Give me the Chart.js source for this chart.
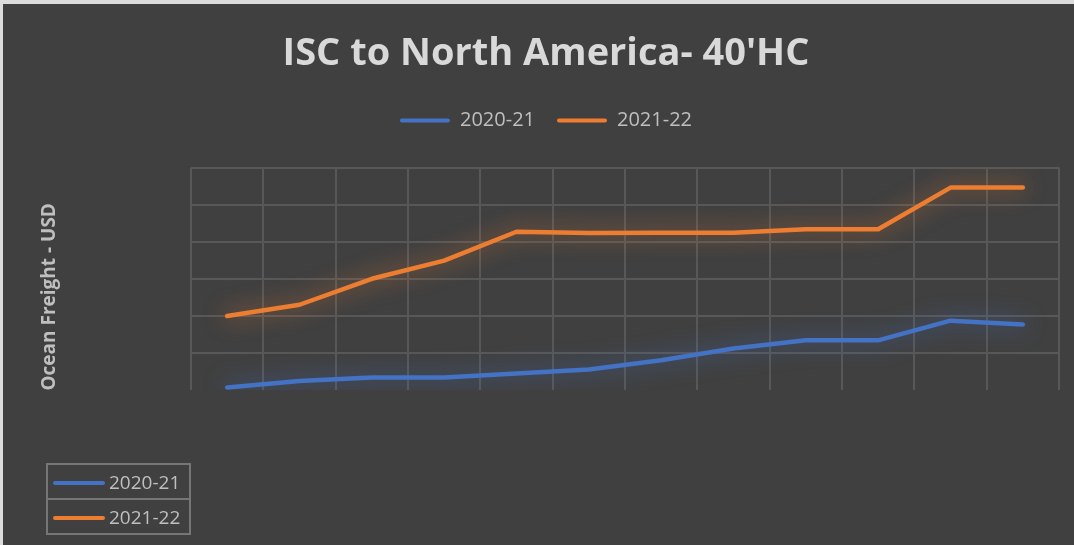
<!DOCTYPE html>
<html>
<head>
<meta charset="utf-8">
<script src="https://cdn.jsdelivr.net/npm/chart.js@4"></script>
<style>
    body { margin: 0; background: #dcdcdc; width: 1074px; height: 545px; overflow: hidden; position: relative; font-family: "Open Sans", sans-serif; }
    #wrap { position: absolute; left: 3px; top: 4px; width: 1071px; height: 541px; background: #404040; }
    #table { position: absolute; left: 46px; top: 463px; border-collapse: collapse; }
    #table td { border: 2px solid #767676; height: 33px; width: 141px; padding: 0; color: #bfbfbf; font-size: 19px; white-space: nowrap; }
    #table .ln { display: inline-block; width: 52px; height: 4px; border-radius: 2px; vertical-align: middle; margin: 0 4px 0 5px; }
</style>
</head>
<body>
<div id="wrap"><canvas id="canvas"></canvas></div>
<table id="table"></table>
<script>
var months = ["Apr", "May", "Jun", "Jul", "Aug", "Sep", "Oct", "Nov", "Dec", "Jan", "Feb", "Mar"];
var seriesNames = ["2020-21", "2021-22"];
var freight2021 = [140, 480, 680, 680, 890, 1110, 1610, 2240, 2680, 2680, 3740, 3530];
var freight2122 = [3990, 4600, 6000, 6980, 8540, 8470, 8490, 8490, 8670, 8670, 10920, 10920];
var colors = ["#4472c4", "#ed7d31"];
var glowColors = ["rgba(68, 114, 196, 0.8)", "rgba(237, 125, 49, 0.75)"];

// bottom-left key box
var rows = "";
for (let i = 0; i < seriesNames.length; i++) {
    rows += "<tr><td><span class='ln' style='background:" + colors[i] + "'></span>" + seriesNames[i] + "</td></tr>";
}
document.getElementById("table").innerHTML = rows;

var glow = {
    id: 'glow',
    beforeDatasetDraw: function (chart, args) {
        chart.ctx.save();
        chart.ctx.shadowColor = glowColors[args.index];
        chart.ctx.shadowBlur = 22;
    },
    afterDatasetDraw: function (chart) {
        chart.ctx.restore();
    }
};

var yTitle = {
    id: 'yTitle',
    afterDraw: function (chart) {
        var ctx = chart.ctx;
        ctx.save();
        ctx.translate(47, (chart.chartArea.top + chart.chartArea.bottom) / 2 + 18);
        ctx.rotate(-Math.PI / 2);
        ctx.font = "bold 19px 'Open Sans'";
        ctx.fillStyle = "#bfbfbf";
        ctx.textAlign = "center";
        ctx.textBaseline = "middle";
        ctx.fillText("Ocean Freight - USD", 0, 0);
        ctx.restore();
    }
};

var legendGap = {
    id: 'legendGap',
    beforeInit: function (chart) {
        var fit = chart.legend.fit;
        chart.legend.fit = function () {
            fit.call(this);
            this.height += 27;
        };
    }
};

var ctx = document.getElementById('canvas');
var myChart = new Chart(ctx, {
    type: 'line',
    data: {
        labels: months,
        datasets: [
            {
                label: seriesNames[0],
                data: freight2021,
                borderColor: colors[0],
                backgroundColor: colors[0],
                borderWidth: 4.5,
                borderCapStyle: 'round',
                borderJoinStyle: 'round',
                pointRadius: 0,
                tension: 0
            },
            {
                label: seriesNames[1],
                data: freight2122,
                borderColor: colors[1],
                backgroundColor: colors[1],
                borderWidth: 4.5,
                borderCapStyle: 'round',
                borderJoinStyle: 'round',
                pointRadius: 0,
                tension: 0
            }
        ]
    },
    options: {
        responsive: true,
        maintainAspectRatio: false,
        animation: false,
        layout: {
            padding: { left: 30, right: 15, bottom: 0, top: 0 }
        },
        plugins: {
            title: {
                display: true,
                text: "ISC to North America- 40'HC",
                color: '#d9d9d9',
                font: { family: 'Open Sans', size: 38, weight: 'bold' },
                padding: { top: 27, bottom: 12 }
            },
            legend: {
                display: true,
                labels: {
                    color: '#bfbfbf',
                    font: { family: 'Open Sans', size: 20 },
                    boxWidth: 50,
                    boxHeight: 4,
                    padding: 22,
                    generateLabels: function (chart) {
                        return chart.data.datasets.map(function (ds, i) {
                            return {
                                text: ds.label,
                                fillStyle: colors[i],
                                strokeStyle: colors[i],
                                lineWidth: 0,
                                fontColor: '#bfbfbf',
                                borderRadius: 2,
                                datasetIndex: i
                            };
                        });
                    }
                }
            },
            tooltip: { enabled: false }
        },
        scales: {
            x: {
                offset: true,
                ticks: { display: false },
                border: { display: false },
                grid: { offset: true, color: '#585858', lineWidth: 2, drawTicks: false },
                afterFit: function (scale) { scale.height = 155; }
            },
            y: {
                min: 0,
                max: 12000,
                ticks: { display: false, stepSize: 2000 },
                border: { display: false },
                grid: {
                    color: function (c) { return c.tick && c.tick.value === 0 ? 'rgba(0,0,0,0)' : '#585858'; },
                    lineWidth: 2,
                    drawTicks: false
                },
                afterFit: function (scale) { scale.width = 158; }
            }
        }
    },
    plugins: [glow, yTitle, legendGap]
});
</script>
</body>
</html>
